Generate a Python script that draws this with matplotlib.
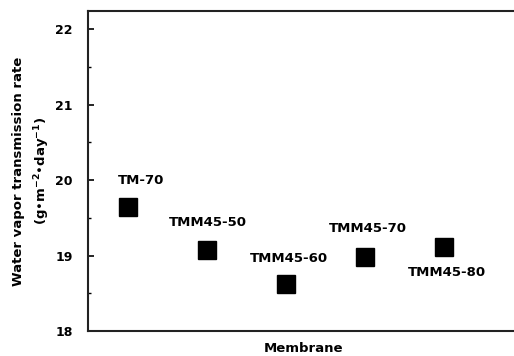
import matplotlib
matplotlib.use('Agg')
import matplotlib.pyplot as plt
from matplotlib.ticker import MultipleLocator

plt.rcParams['font.family'] = ['DejaVu Sans']
plt.rcParams['font.weight'] = 'bold'
plt.rcParams['mathtext.fontset'] = 'dejavusans'
plt.rcParams['mathtext.default'] = 'bf'

# data
membranes = ['TM-70', 'TMM45-50', 'TMM45-60', 'TMM45-70', 'TMM45-80']
wvtr = [19.64, 19.08, 18.62, 18.98, 19.11]
positions = [0, 1, 2, 3, 4]

# label offsets (pixels) relative to each point
label_dx = [13, 1, 3, 3, 3]
label_dy = [27, 27, 26, 29, -25]

fig = plt.figure(figsize=(5.14, 3.56), dpi=100)
ax = fig.add_axes([0.171, 0.070, 0.829 + 0.01, 0.899])

ax.plot(positions, wvtr, 's', color='black', markersize=13, linestyle='none')

for x, y, name, dx, dy in zip(positions, wvtr, membranes, label_dx, label_dy):
    ax.annotate(name, (x, y), xytext=(dx, dy), textcoords='offset pixels',
                ha='center', va='center', fontsize=9.5, fontweight='bold')

ax.set_xlim(-0.51, 4.95)
ax.set_ylim(18, 22.24)
ax.set_xticks([])
ax.yaxis.set_major_locator(MultipleLocator(1))
ax.yaxis.set_minor_locator(MultipleLocator(0.5))
ax.tick_params(axis='y', which='major', direction='in', length=4, width=1.2, pad=11, labelsize=9)
ax.tick_params(axis='y', which='minor', direction='in', length=2.5, width=1)
for lab in ax.get_yticklabels():
    lab.set_fontweight('bold')

for side in ['left', 'bottom', 'top']:
    ax.spines[side].set_linewidth(1.5)
    ax.spines[side].set_color('#222222')
ax.spines['right'].set_visible(False)

ax.set_ylabel('Water vapor transmission rate\n(g\u2022m$^{-2}$\u2022day$^{-1}$)',
              fontsize=9.5, fontweight='bold', labelpad=2, linespacing=1.55)
ax.set_xlabel('Membrane', fontsize=9.5, fontweight='bold', labelpad=8)

fig.savefig('out.png', dpi=100, facecolor='white')
